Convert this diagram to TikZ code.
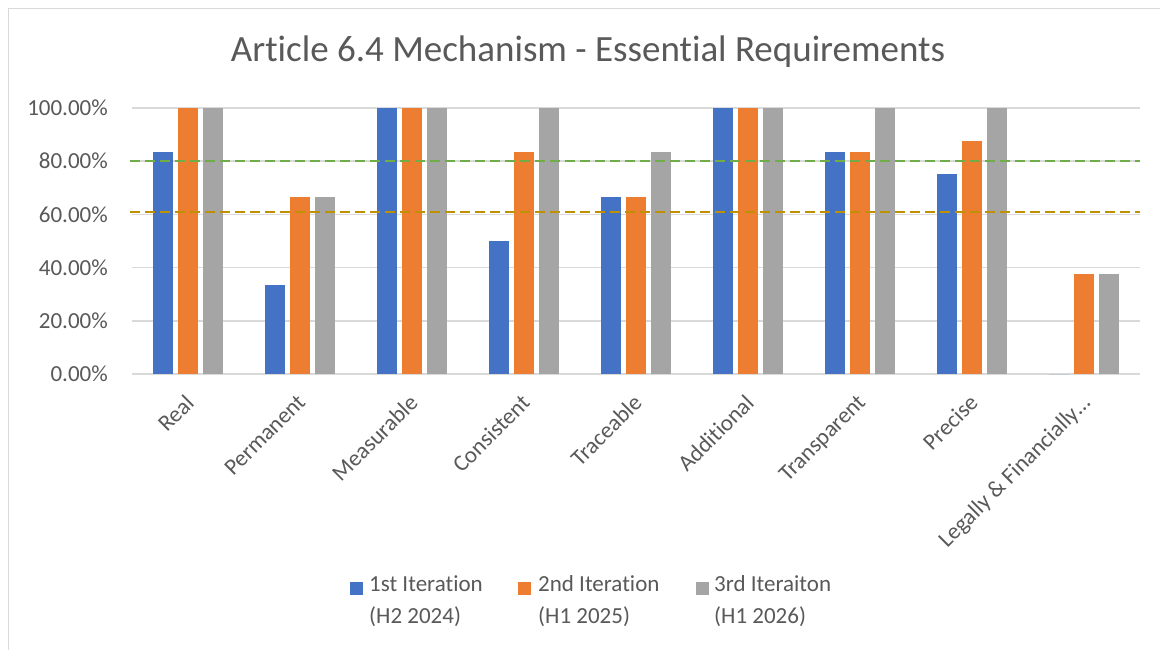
\documentclass[tikz,border=0pt]{standalone}
\usepackage{fontspec}
\setmainfont{Carlito}[Ligatures=NoCommon]
\usetikzlibrary{positioning}

\definecolor{iterone}{HTML}{4472C4}
\definecolor{itertwo}{HTML}{ED7D31}
\definecolor{iterthree}{HTML}{A5A5A5}
\definecolor{gridgray}{HTML}{D9D9D9}
\definecolor{framegray}{HTML}{D9D9D9}
\definecolor{labelgray}{HTML}{595959}
\definecolor{targetgreen}{HTML}{70AD47}
\definecolor{targetgold}{HTML}{BF9000}

\tikzset{
  ticklabel/.style={anchor=east, inner sep=0pt, text=labelgray,
                    font=\fontsize{23}{27}\selectfont},
  catlabel/.style={rotate=45, anchor=north east, inner sep=0pt, text=labelgray,
                   font=\fontsize{23}{27}\selectfont},
  legsq/.style={minimum size=13pt, inner sep=0pt},
  legtext/.style={anchor=north west, inner sep=0pt, align=left, text=labelgray,
                  font=\fontsize{23}{32}\selectfont},
  targetline/.style={line width=2.5pt, dash pattern=on 10pt off 5pt},
}

\begin{document}
\begin{tikzpicture}[x=1pt, y=-1pt]
  \useasboundingbox (0,0) rectangle (1160,650);
  \fill[white] (0,0) rectangle (1160,650);
  \draw[framegray, line width=1.5pt] (8.5,650) |- (1160,8.5);

  \node[text=labelgray, font=\fontsize{37}{42}\selectfont] (title) at (588,52)
    {Article 6.4 Mechanism - Essential Requirements};

  % gridlines and axis labels
  \foreach \v in {0,20,...,100} {
    \draw[gridgray, line width=1.5pt] (132,{374-2.66*\v}) -- (1140,{374-2.66*\v});
    \node[ticklabel] (tick\v) at (108,{374-2.66*\v}) {\v.00\%};
  }

  % bars, one group per requirement
  \foreach \req/\a/\b/\c [count=\i from 0] in {
      Real/83.33/100/100, Permanent/33.33/66.67/66.67,
      Measurable/100/100/100, Consistent/50/83.33/100,
      Traceable/66.67/66.67/83.33, Additional/100/100/100,
      Transparent/83.33/83.33/100, Precise/75/87.5/100,
      Legally \& Financially…/0/37.5/37.5} {
    \pgfmathsetmacro{\cx}{188+112*\i}
    \fill[iterone]   ({\cx-35},374) rectangle ({\cx-15},{374-2.66*\a});
    \fill[itertwo]   ({\cx-10},374) rectangle ({\cx+10},{374-2.66*\b});
    \fill[iterthree] ({\cx+15},374) rectangle ({\cx+35},{374-2.66*\c});
    \node[catlabel] (cat\i) at ({\cx-4},393) {\req};
  }

  % target lines
  \draw[targetline, targetgreen] (130,161) -- (1140,161);
  \draw[targetline, targetgold] (130,212) -- (1140,212);

  % legend
  \node[legsq, fill=iterone] (key1) at (356,588) {};
  \node[legtext] (leg1) at (369,575) {1st Iteration\\(H2 2024)};
  \node[legsq, fill=itertwo] (key2) at (524,588) {};
  \node[legtext] (leg2) at (538,575) {2nd Iteration\\(H1 2025)};
  \node[legsq, fill=iterthree] (key3) at (702,588) {};
  \node[legtext] (leg3) at (714,575) {3rd Iteraiton\\(H1 2026)};
\end{tikzpicture}
\end{document}
